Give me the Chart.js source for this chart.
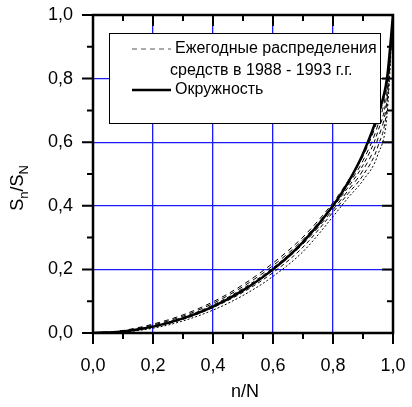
<!DOCTYPE html>
<html lang="ru">
<head>
    <meta charset="UTF-8">
    <title>S_n/S_N</title>
    <style>
        body { margin: 0; background: #fff; }
        #wrap { width: 412px; height: 407px; }
    </style>
</head>
<body>
    <div id="wrap"><canvas id="chart" width="412" height="407"></canvas></div>

    <script src="https://cdn.jsdelivr.net/npm/chart.js"></script>
    <script>
        // n/N values where curves were read
        const nN = [0, 0.1, 0.2, 0.3, 0.4, 0.5, 0.6, 0.7, 0.8, 0.85, 0.9, 0.95, 0.98, 1.0];

        // Окружность (solid)
        const circle = [0, 0.005, 0.020, 0.046, 0.083, 0.134, 0.200, 0.286, 0.400, 0.473, 0.564, 0.688, 0.801, 1.0];

        // Ежегодные распределения 1988 - 1993 (dashed)
        const y1988 = [0, 0.008, 0.028, 0.057, 0.098, 0.152, 0.220, 0.302, 0.410, 0.478, 0.556, 0.676, 0.795, 1.0];
        const y1989 = [0, 0.007, 0.025, 0.053, 0.093, 0.146, 0.212, 0.294, 0.402, 0.466, 0.542, 0.656, 0.780, 1.0];
        const y1990 = [0, 0.006, 0.022, 0.049, 0.088, 0.140, 0.205, 0.288, 0.396, 0.458, 0.528, 0.635, 0.755, 1.0];
        const y1991 = [0, 0.005, 0.020, 0.046, 0.084, 0.134, 0.198, 0.280, 0.388, 0.448, 0.512, 0.612, 0.735, 1.0];
        const y1992 = [0, 0.004, 0.018, 0.043, 0.080, 0.128, 0.190, 0.270, 0.380, 0.438, 0.496, 0.588, 0.712, 1.0];
        const y1993 = [0, 0.003, 0.015, 0.038, 0.072, 0.118, 0.178, 0.256, 0.366, 0.425, 0.480, 0.562, 0.685, 1.0];

        const tickValues = [0, 0.2, 0.4, 0.6, 0.8, 1.0];
        const legendLines = ['Ежегодные распределения', 'средств в 1988 - 1993 г.г.', 'Окружность'];

        const FONT = '"Liberation Sans", Arial, sans-serif';

        function pts(ys) {
            return nN.map((x, i) => ({ x: x, y: ys[i] }));
        }

        const dashedYears = [y1988, y1989, y1990, y1991, y1992, y1993];
        const dashPatterns = [[5, 4], [5, 4], [4, 3], [5, 4], [4, 3], [2, 2]];

        const datasets = dashedYears.map((ys, i) => ({
            data: pts(ys),
            borderColor: '#000',
            borderWidth: 1,
            borderDash: dashPatterns[i],
            pointRadius: 0,
            showLine: true,
            fill: false,
            cubicInterpolationMode: 'monotone'
        }));
        datasets.push({
            data: pts(circle),
            borderColor: '#000',
            borderWidth: 2.5,
            pointRadius: 0,
            showLine: true,
            fill: false,
            cubicInterpolationMode: 'monotone'
        });

        function fmt(v) {
            return Number(v).toFixed(1).replace('.', ',');
        }

        // fixed plot box: left 93, top 15, right 393, bottom 333
        function fixY(s) {
            s.width = 93;
            s.paddingTop = 0; s.paddingBottom = 0; s.paddingLeft = 0; s.paddingRight = 0;
        }
        function fixX(s) {
            s.height = 74;
            s.paddingTop = 0; s.paddingBottom = 0; s.paddingLeft = 0; s.paddingRight = 0;
        }

        // frame, minor/major ticks, axis titles and legend box
        const decorPlugin = {
            id: 'decor',
            afterDraw(chart) {
                const ctx = chart.ctx;
                const a = chart.chartArea;
                const xs = chart.scales.x, ys = chart.scales.y;
                ctx.save();
                ctx.strokeStyle = '#000';
                ctx.lineWidth = 2.5;
                ctx.strokeRect(a.left, a.top, a.right - a.left, a.bottom - a.top);

                ctx.lineWidth = 2;
                for (let k = 0; k <= 10; k++) {
                    const v = k / 10;
                    const len = (k % 2 === 0) ? 11 : 6;
                    const px = xs.getPixelForValue(v);
                    const py = ys.getPixelForValue(v);
                    ctx.beginPath();
                    // bottom (out), top (in)
                    ctx.moveTo(px, a.bottom); ctx.lineTo(px, a.bottom + len);
                    ctx.moveTo(px, a.top); ctx.lineTo(px, a.top + len);
                    // left (out), right (in)
                    ctx.moveTo(a.left, py); ctx.lineTo(a.left - len, py);
                    ctx.moveTo(a.right, py); ctx.lineTo(a.right - len, py);
                    ctx.stroke();
                }

                // x title
                ctx.fillStyle = '#000';
                ctx.font = '18px ' + FONT;
                ctx.textAlign = 'center';
                ctx.textBaseline = 'middle';
                ctx.fillText('n/N', 245, 392);

                // y title with subscripts, rotated
                ctx.save();
                ctx.translate(16, 188);
                ctx.rotate(-Math.PI / 2);
                ctx.textAlign = 'left';
                ctx.textBaseline = 'alphabetic';
                const parts = [['S', 18, 0], ['n', 13, 5], ['/S', 18, 0], ['N', 13, 5]];
                let total = 0;
                parts.forEach(p => { ctx.font = p[1] + 'px ' + FONT; total += ctx.measureText(p[0]).width; });
                let cx = -total / 2;
                parts.forEach(p => {
                    ctx.font = p[1] + 'px ' + FONT;
                    ctx.fillText(p[0], cx, 7 + p[2]);
                    cx += ctx.measureText(p[0]).width;
                });
                ctx.restore();

                // legend
                ctx.fillStyle = '#fff';
                ctx.fillRect(109, 33, 271, 90);
                ctx.lineWidth = 1;
                ctx.strokeStyle = '#000';
                ctx.strokeRect(109.5, 33.5, 271, 90);

                ctx.beginPath();
                ctx.setLineDash([5, 4]);
                ctx.lineWidth = 1;
                ctx.strokeStyle = '#555';
                ctx.moveTo(132, 49); ctx.lineTo(171, 49);
                ctx.stroke();
                ctx.setLineDash([]);
                ctx.beginPath();
                ctx.strokeStyle = '#000';
                ctx.lineWidth = 2.5;
                ctx.moveTo(132, 90); ctx.lineTo(171, 90);
                ctx.stroke();

                ctx.fillStyle = '#000';
                ctx.font = '16px ' + FONT;
                ctx.textAlign = 'left';
                ctx.textBaseline = 'middle';
                ctx.fillText(legendLines[0], 175, 49);
                ctx.fillText(legendLines[1], 170, 71);
                ctx.fillText(legendLines[2], 175, 90);
                ctx.restore();
            }
        };

        const ctx = document.getElementById('chart').getContext('2d');
        const chart = new Chart(ctx, {
            type: 'scatter',
            data: { datasets: datasets },
            options: {
                responsive: false,
                animation: false,
                layout: { padding: { top: 15, right: 19, left: 0, bottom: 0 } },
                plugins: {
                    legend: { display: false },
                    tooltip: { enabled: false }
                },
                scales: {
                    x: {
                        type: 'linear',
                        min: 0, max: 1,
                        afterBuildTicks: s => { s.ticks = tickValues.map(v => ({ value: v })); },
                        afterFit: fixX,
                        grid: { color: '#1a1aff', lineWidth: 1.3, drawTicks: false },
                        border: { display: false },
                        ticks: {
                            color: '#000',
                            font: { size: 18, family: FONT },
                            padding: 22,
                            maxRotation: 0,
                            callback: v => fmt(v)
                        }
                    },
                    y: {
                        type: 'linear',
                        min: 0, max: 1,
                        afterBuildTicks: s => { s.ticks = tickValues.map(v => ({ value: v })); },
                        afterFit: fixY,
                        grid: { color: '#1a1aff', lineWidth: 1.3, drawTicks: false },
                        border: { display: false },
                        ticks: {
                            color: '#000',
                            font: { size: 18, family: FONT },
                            padding: 20,
                            callback: v => fmt(v)
                        }
                    }
                }
            },
            plugins: [decorPlugin]
        });
    </script>
</body>
</html>
